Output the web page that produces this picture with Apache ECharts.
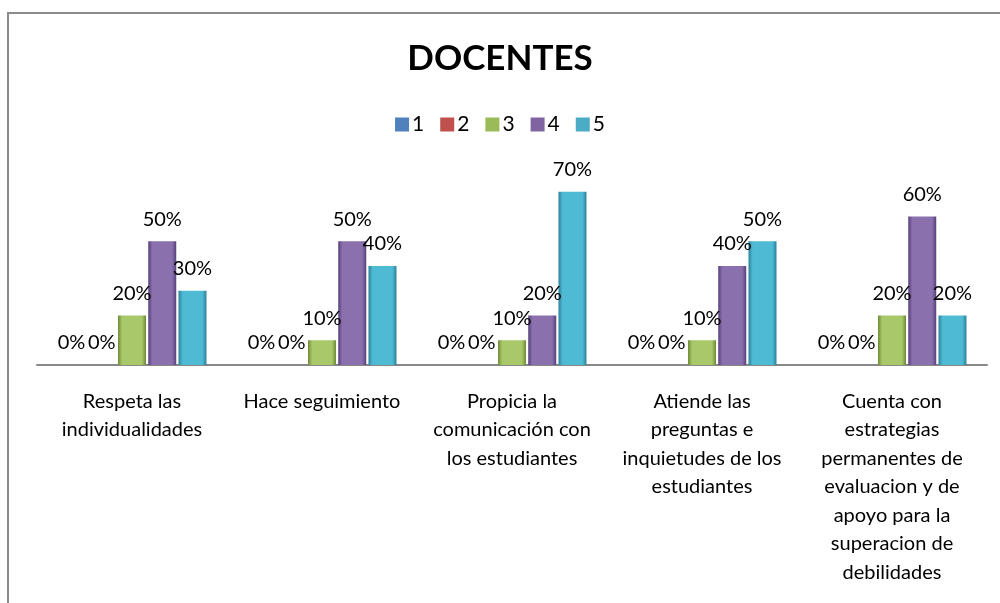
<!DOCTYPE html>
<html>
<head>
<meta charset="utf-8">
<script src="https://cdn.jsdelivr.net/npm/echarts@6/dist/echarts.min.js"></script>
<style>
  html, body { margin: 0; padding: 0; background: #fff; }
  #chart { width: 1000px; height: 603px; }
</style>
</head>
<body>
<div id="chart"></div>
<script>
var myChart = echarts.init(document.getElementById('chart'))

// categorias del eje x
var categories = [
    'Respeta las\nindividualidades',
    'Hace seguimiento',
    'Propicia la\ncomunicación con\nlos estudiantes',
    'Atiende las\npreguntas e\ninquietudes de los\nestudiantes',
    'Cuenta con\nestrategias\npermanentes de\nevaluacion y de\napoyo para la\nsuperacion de\ndebilidades'
]
var seriesNames = ['1', '2', '3', '4', '5']
var values1 = [0, 0, 0, 0, 0]
var values2 = [0, 0, 0, 0, 0]
var values3 = [20, 10, 10, 10, 20]
var values4 = [50, 50, 20, 40, 60]
var values5 = [30, 40, 70, 50, 20]

var allValues = [values1, values2, values3, values4, values5]
var colors = [
    ['#3a6496', '#5b8fcc'],
    ['#92302d', '#d0625f'],
    ['#6f8a35', '#a8c86a'],
    ['#56407a', '#8b70ae'],
    ['#2b8099', '#4fbad4']
]
var legendColors = ['#4F81BD', '#C0504D', '#9BBB59', '#8064A2', '#4BACC6']

var font = 'Lato, "Open Sans", sans-serif'

var series = []
for (var i = 0; i < 5; i++) {
    series.push({
        name: seriesNames[i],
        type: 'bar',
        data: allValues[i],
        barWidth: 28,
        barGap: '8%',
        itemStyle: {
            color: new echarts.graphic.LinearGradient(0, 0, 1, 0, [
                { offset: 0, color: colors[i][0] },
                { offset: 0.15, color: colors[i][1] },
                { offset: 0.85, color: colors[i][1] },
                { offset: 1, color: colors[i][0] }
            ])
        },
        label: {
            show: true,
            position: 'top',
            distance: 12,
            formatter: '{c}%',
            color: '#000',
            fontSize: 20,
            fontFamily: font
        }
    })
}

option = {
    animation: false,
    title: {
        text: 'DOCENTES',
        left: 'center',
        top: 36,
        textStyle: {
            fontFamily: font,
            fontWeight: 'bold',
            fontSize: 35,
            color: '#000'
        }
    },
    legend: {
        top: 109,
        left: 'center',
        itemWidth: 14,
        itemHeight: 14,
        itemGap: 16,
        icon: 'rect',
        data: seriesNames.map(function (n, k) {
            return { name: n, itemStyle: { color: legendColors[k] } }
        }),
        textStyle: { fontFamily: font, fontSize: 21, color: '#000', padding: [0, 0, 0, -2] }
    },
    grid: {
        left: 37,
        right: 13,
        top: 167,
        bottom: 238
    },
    xAxis: {
        type: 'category',
        data: categories,
        axisLine: { show: true, lineStyle: { color: '#888', width: 2 } },
        axisTick: { show: false },
        axisLabel: {
            interval: 0,
            margin: 22,
            color: '#000',
            fontSize: 20,
            lineHeight: 28.5,
            fontFamily: font,
            verticalAlign: 'top'
        }
    },
    yAxis: {
        type: 'value',
        min: 0,
        max: 80,
        show: false
    },
    graphic: [{
        type: 'rect',
        shape: { x: 8, y: 13, width: 1100, height: 700 },
        style: { fill: 'none', stroke: '#8a8a8a', lineWidth: 2 },
        silent: true
    }],
    series: series
};

myChart.setOption(option);
</script>
</body>
</html>
